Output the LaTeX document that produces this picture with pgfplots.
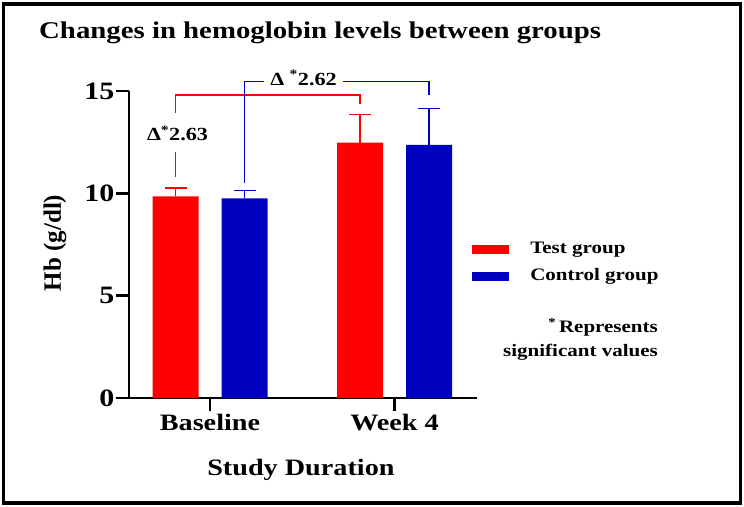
\documentclass[border=0pt]{standalone}
\usepackage{pgfplots}
\pgfplotsset{compat=1.18}
\usepackage{fontspec}
\setmainfont{Liberation Serif}[FakeStretch=1.2]
\newfontfamily\ylfont{Liberation Serif}
\definecolor{tred}{HTML}{FF0000}
\definecolor{cblue}{HTML}{0000C0}
\newcommand{\fs}[1]{\fontsize{#1bp}{#1bp}\selectfont}
\pgfplotsset{mylegend/.style={legend image code/.code={\fill[##1] (0bp,-4.5bp) rectangle (37bp,4.5bp);}}}
\begin{document}
\begin{tikzpicture}
\useasboundingbox (0,0) rectangle (744bp,507bp);
\fill[white] (0,0) rectangle (744bp,507bp);
\draw[line width=3.5bp] (3.5bp,4bp) rectangle (740.5bp,503bp);
\node[anchor=base west, inner sep=0pt, font=\bfseries\fs{24}] at (39bp,468bp) {Changes in hemoglobin levels between groups};
\begin{axis}[
  at={(129bp,109bp)}, anchor=south west,
  scale only axis, width=348bp, height=307bp,
  xmin=-0.439, xmax=1.447, ymin=0, ymax=15,
  axis lines*=left, clip=false,
  axis line style={line width=2.7bp},
  tick style={line width=2.5bp, black},
  tick align=outside, major tick length=13bp,
  xtick={0,1}, xticklabels={Baseline, Week 4},
  ytick={0,5,10,15},
  /pgf/number format/assume math mode=true,
  yticklabel style={font=\bfseries\fs{25}, xshift=2bp},
  xticklabel style={font=\bfseries\fs{23.5}},
  xlabel={Study Duration}, ylabel={Hb (g/dl)},
  xlabel style={font=\bfseries\fs{23.5}, at={(axis description cs:0.494,-0.254)}, anchor=base},
  ylabel style={font=\ylfont\bfseries\fs{25}, at={(axis description cs:-0.2126,0.505)}, anchor=center},
  ybar, bar width=46bp,
  legend style={at={(axis description cs:0.986,0.515)}, anchor=north west, draw=none, fill=none,
    inner sep=0pt, row sep=9.5bp, font=\bfseries\fs{17.5},
    nodes={inner sep=1bp, text height=12bp, text depth=4bp},
    /tikz/every odd column/.append style={column sep=20bp}},
  legend cell align=left,
]
\addplot[mylegend, fill=tred, draw=none, bar shift=-34.5bp,
  error bars/.cd, y dir=plus, y explicit,
  error bar style={line width=1.5bp, color=tred},
  error mark options={rotate=90, mark size=11bp, line width=1.5bp, color=tred}]
  coordinates {(0,9.85) +- (0,0.42) (1,12.48) +- (0,1.38)};
\addlegendentry{Test group}
\addplot[mylegend, fill=cblue, draw=none, bar shift=34.5bp,
  error bars/.cd, y dir=plus, y explicit,
  error bar style={line width=1.5bp, color=cblue},
  error mark options={rotate=90, mark size=11bp, line width=1.5bp, color=cblue}]
  coordinates {(0,9.75) +- (0,0.39) (1,12.37) +- (0,1.78)};
\addlegendentry{Control group}
\draw[tred, line width=1.3bp] (axis cs:-0.187,13.93) -- (axis cs:-0.187,14.80) -- (axis cs:0.813,14.80) -- (axis cs:0.813,14.37);
\draw[tred, line width=1.3bp] (axis cs:-0.187,12.02) -- (axis cs:-0.187,10.80);
\node[font=\bfseries\fs{18.5}, anchor=base, inner sep=0pt] at (axis cs:-0.176,12.57) {Δ\textsuperscript{*}2.63};
\draw[cblue, line width=1.3bp] (axis cs:0.187,10.52) -- (axis cs:0.187,15.45) -- (axis cs:0.293,15.45);
\draw[cblue, line width=1.3bp] (axis cs:0.721,15.45) -- (axis cs:1.187,15.45) -- (axis cs:1.187,14.80);
\node[font=\bfseries\fs{18.5}, anchor=base, inner sep=0pt] at (axis cs:0.507,15.29) {Δ \textsuperscript{*}2.62};
\end{axis}
\node[anchor=base east, inner sep=0pt, font=\bfseries\fs{17.5}] at (658bp,174bp) {\textsuperscript{*}\,Represents};
\node[anchor=base east, inner sep=0pt, font=\bfseries\fs{17.5}] at (658bp,150.3bp) {significant values};
\end{tikzpicture}
\end{document}
